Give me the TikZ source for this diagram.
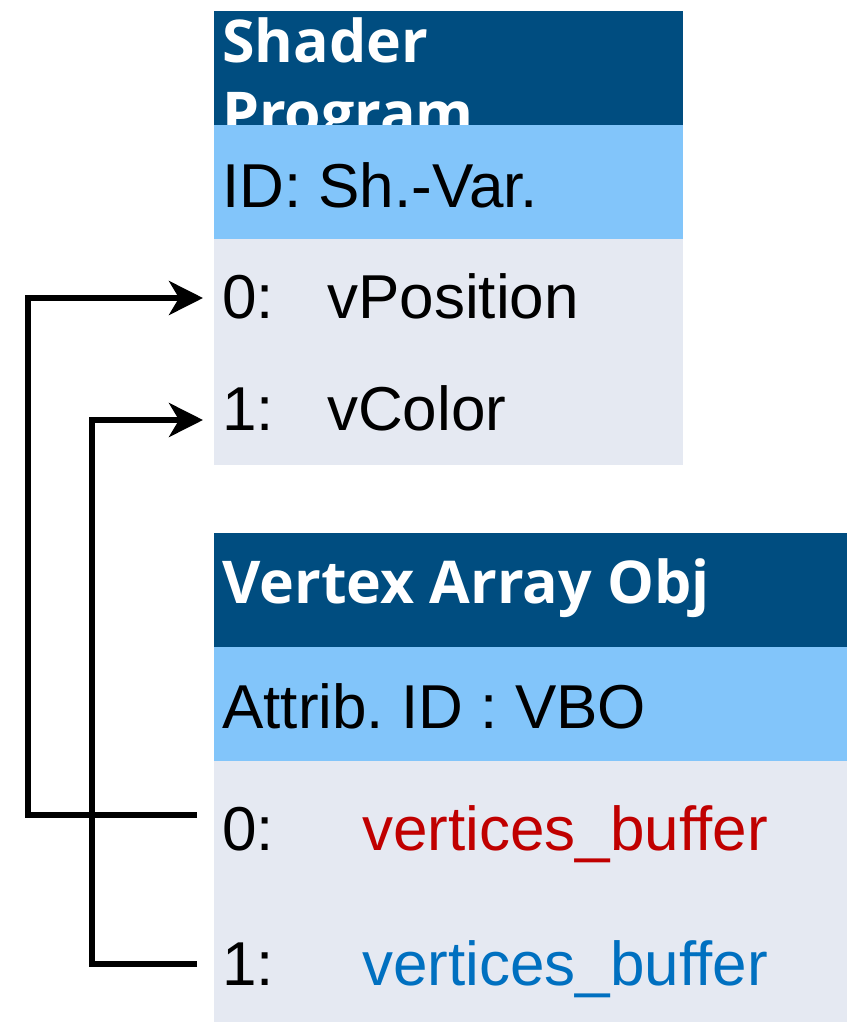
\documentclass[tikz,border=0pt]{standalone}
\usepackage{fontspec}
\setmainfont{Liberation Sans}
\newfontfamily\hdrfont{Open Sans}
\usetikzlibrary{arrows.meta}
\frenchspacing
\definecolor{hdrblue}{RGB}{0,77,128}
\definecolor{idblue}{RGB}{130,197,250}
\definecolor{bodygrey}{RGB}{229,233,242}
\definecolor{txtred}{RGB}{192,0,0}
\definecolor{txtblue}{RGB}{0,112,192}
\tikzset{
  panel/.style={draw=none,inner sep=0pt,outer sep=0pt,anchor=north west},
  hdrtxt/.style={anchor=base west,inner sep=0pt,text=white,font=\hdrfont\bfseries\fontsize{59}{72}\selectfont},
  bodytxt/.style={anchor=base west,inner sep=0pt,font=\fontsize{62}{72}\selectfont},
  conn/.style={line width=5.5pt,line join=miter},
  tip/.style={-{Stealth[length=34pt,width=34pt,inset=10pt]}}
}
\begin{document}
\begin{tikzpicture}[x=1pt,y=-1pt]
\useasboundingbox (0,0) rectangle (847,1022);
% Shader program box
\node[panel,fill=hdrblue,minimum width=469pt,minimum height=114pt] (shHdr) at (214,11) {};
\node[hdrtxt] (shT1) at (222,63) {Shader};
\node[hdrtxt] (shT2) at (222,135) {Program};
\node[panel,fill=idblue,minimum width=469pt,minimum height=114pt] (shId) at (214,125) {};
\node[panel,fill=bodygrey,minimum width=469pt,minimum height=226pt] (shBody) at (214,239) {};
\node[bodytxt] (shIdT) at (222,207) {ID: Sh.-Var.};
\node[bodytxt] (p0n) at (222,318) {0:};
\node[bodytxt] (p0v) at (327,318) {vPosition};
\node[bodytxt] (p1n) at (222,430) {1:};
\node[bodytxt] (p1v) at (327,430) {vColor};
% VAO box
\node[panel,fill=hdrblue,minimum width=633pt,minimum height=114pt] (vaHdr) at (214,533) {};
\node[hdrtxt] (vaT) at (222,603) {Vertex Array Obj};
\node[panel,fill=idblue,minimum width=633pt,minimum height=114pt] (vaId) at (214,647) {};
\node[panel,fill=bodygrey,minimum width=633pt,minimum height=261pt] (vaBody) at (214,761) {};
\node[bodytxt] (vaIdT) at (222,728) {Attrib. ID : VBO};
\node[bodytxt] (v0n) at (222,850) {0:};
\node[bodytxt,text=txtred] (v0v) at (362,850) {vertices\_buffer};
\node[bodytxt] (v1n) at (222,985) {1:};
\node[bodytxt,text=txtblue] (v1v) at (362,985) {vertices\_buffer};
% connectors
\coordinate (s0) at (197,815);
\coordinate (c0) at (28,815);
\coordinate (e0) at (203,298);
\coordinate (s1) at (197,964);
\coordinate (c1) at (92,964);
\coordinate (e1) at (203,420);
\draw[conn,tip] (s0) -- (c0) |- (e0);
\draw[conn,tip] (s1) -- (c1) |- (e1);
\end{tikzpicture}
\end{document}
